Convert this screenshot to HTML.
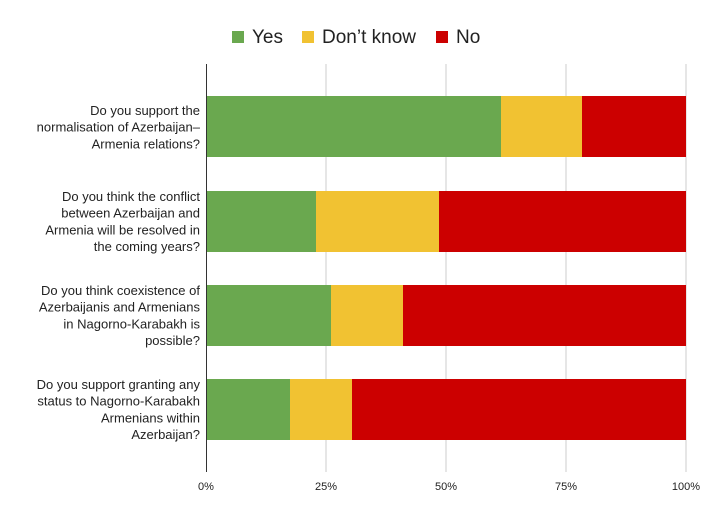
<!DOCTYPE html>
<html><head><meta charset="utf-8"><style>
body{margin:0;background:#fff;}
svg text{font-family:"Liberation Sans",sans-serif;}
</style></head><body>
<svg width="712" height="516" viewBox="0 0 712 516" xmlns="http://www.w3.org/2000/svg">
<rect width="712" height="516" fill="#fff"/>
<!-- legend -->
<rect x="232" y="31" width="12" height="12" fill="#6aa84f"/>
<text x="252" y="43" font-size="19" fill="#222">Yes</text>
<rect x="302" y="31" width="12" height="12" fill="#f1c232"/>
<text x="322" y="43" font-size="19" fill="#222">Don’t know</text>
<rect x="436" y="31" width="12" height="12" fill="#cc0000"/>
<text x="456" y="43" font-size="19" fill="#222">No</text>
<!-- grid -->
<g stroke="#ccc" stroke-width="1">
<line x1="326" y1="64" x2="326" y2="472"/>
<line x1="446" y1="64" x2="446" y2="472"/>
<line x1="566" y1="64" x2="566" y2="472"/>
<line x1="686" y1="64" x2="686" y2="472"/>
</g>
<!-- bars -->
<rect x="206" y="96" width="295" height="61" fill="#6aa84f"/>
<rect x="501" y="96" width="81" height="61" fill="#f1c232"/>
<rect x="582" y="96" width="104" height="61" fill="#cc0000"/>
<rect x="206" y="191" width="110" height="61" fill="#6aa84f"/>
<rect x="316" y="191" width="123" height="61" fill="#f1c232"/>
<rect x="439" y="191" width="247" height="61" fill="#cc0000"/>
<rect x="206" y="285" width="125" height="61" fill="#6aa84f"/>
<rect x="331" y="285" width="72" height="61" fill="#f1c232"/>
<rect x="403" y="285" width="283" height="61" fill="#cc0000"/>
<rect x="206" y="379" width="84" height="61" fill="#6aa84f"/>
<rect x="290" y="379" width="62" height="61" fill="#f1c232"/>
<rect x="352" y="379" width="334" height="61" fill="#cc0000"/>
<line x1="206.5" y1="64" x2="206.5" y2="472" stroke="#333" stroke-width="1"/>
<!-- labels -->
<g font-size="13" fill="#222" text-anchor="end">
<text x="200" y="115">Do you support the</text>
<text x="200" y="131.7">normalisation of Azerbaijan–</text>
<text x="200" y="148.3">Armenia relations?</text>
<text x="200" y="201">Do you think the conflict</text>
<text x="200" y="217.7">between Azerbaijan and</text>
<text x="200" y="234.3">Armenia will be resolved in</text>
<text x="200" y="251">the coming years?</text>
<text x="200" y="295">Do you think coexistence of</text>
<text x="200" y="311.7">Azerbaijanis and Armenians</text>
<text x="200" y="328.3">in Nagorno-Karabakh is</text>
<text x="200" y="345">possible?</text>
<text x="200" y="389">Do you support granting any</text>
<text x="200" y="405.7">status to Nagorno-Karabakh</text>
<text x="200" y="422.3">Armenians within</text>
<text x="200" y="439">Azerbaijan?</text>
</g>
<g font-size="11" fill="#222" text-anchor="middle">
<text x="206" y="490">0%</text>
<text x="326" y="490">25%</text>
<text x="446" y="490">50%</text>
<text x="566" y="490">75%</text>
<text x="686" y="490">100%</text>
</g>
</svg>
</body></html>
